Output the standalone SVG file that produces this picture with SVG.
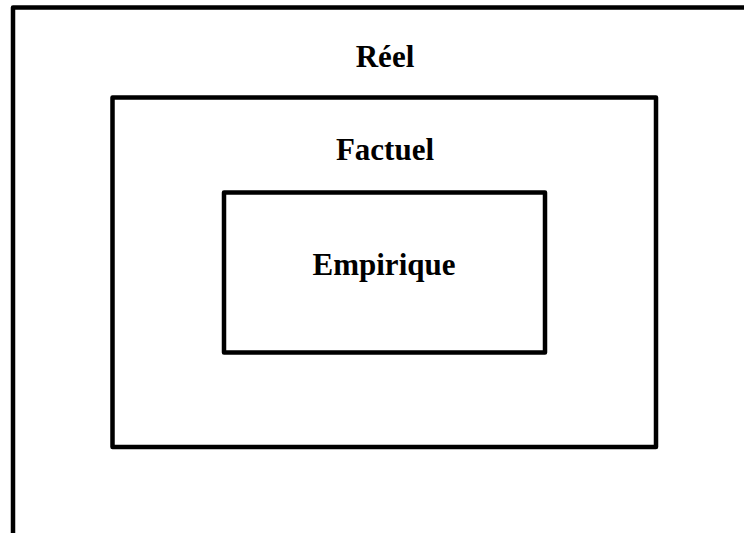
<svg xmlns="http://www.w3.org/2000/svg" width="744" height="533" viewBox="0 0 744 533">
<style>
.box{fill:none;stroke:#000;stroke-width:4.5;stroke-linejoin:round}
.lbl{font-family:"Liberation Serif","Times New Roman",serif;font-weight:bold;font-size:31px;text-anchor:middle;fill:#000}
</style>
<rect width="744" height="533" fill="#fff"/>
<g id="reel">
<path class="box" d="M13,540 L13,7.5 L760,7.5"/>
<text class="lbl" x="385" y="67">Réel</text>
</g>
<g id="factuel">
<rect class="box" x="112.5" y="97.5" width="543.5" height="349.5"/>
<text class="lbl" x="385" y="160">Factuel</text>
</g>
<g id="empirique">
<rect class="box" x="224" y="192.5" width="321" height="160"/>
<text class="lbl" x="384" y="275">Empirique</text>
</g>
<g id="connectors"/>
</svg>
